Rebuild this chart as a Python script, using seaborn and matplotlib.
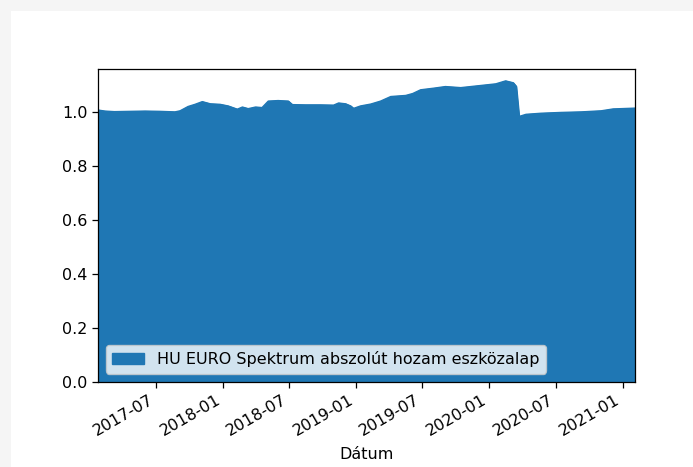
import seaborn as sns
import matplotlib.pyplot as plt
import matplotlib.dates as mdates
from matplotlib.patches import Rectangle
import pandas as pd

# values
dates = [
    "2017-01-23", "2017-02-11", "2017-03-09", "2017-04-20", "2017-06-01",
    "2017-07-12", "2017-08-22", "2017-09-05", "2017-09-27", "2017-10-16",
    "2017-11-05", "2017-11-27", "2017-12-24", "2018-01-15", "2018-02-09",
    "2018-02-23", "2018-03-11", "2018-03-31", "2018-04-18", "2018-05-05",
    "2018-06-01", "2018-06-29", "2018-07-10", "2018-08-15", "2018-09-25",
    "2018-10-31", "2018-11-14", "2018-12-03", "2018-12-17", "2018-12-25",
    "2019-01-13", "2019-02-10", "2019-03-09", "2019-04-06", "2019-05-17",
    "2019-06-05", "2019-06-27", "2019-08-02", "2019-09-03", "2019-10-15",
    "2019-12-09", "2020-01-19", "2020-02-15", "2020-03-07", "2020-03-15",
    "2020-03-23", "2020-04-11", "2020-05-22", "2020-07-16", "2020-09-09",
    "2020-11-03", "2020-12-06", "2021-02-04",
]
values = [
    1.007, 1.003, 1.001, 1.002, 1.003,
    1.002, 1.000, 1.004, 1.020, 1.028,
    1.038, 1.030, 1.028, 1.022, 1.010,
    1.018, 1.012, 1.018, 1.016, 1.040,
    1.042, 1.040, 1.027, 1.026, 1.026,
    1.025, 1.033, 1.030, 1.022, 1.013,
    1.022, 1.029, 1.040, 1.057, 1.061,
    1.068, 1.082, 1.088, 1.094, 1.090,
    1.098, 1.104, 1.115, 1.108, 1.095,
    0.983, 0.991, 0.995, 0.998, 1.000,
    1.004, 1.011, 1.014,
]
fund = "HU EURO Spektrum abszolút hozam eszközalap"

df = pd.DataFrame({"Dátum": pd.to_datetime(dates), fund: values})

sns.reset_defaults()
plt.rcParams.update({
    "font.size": 11.5,
    "axes.linewidth": 0.9,
    "xtick.major.size": 4, "ytick.major.size": 4,
    "xtick.major.width": 0.9, "ytick.major.width": 0.9,
})
fig = plt.figure(figsize=(6.93, 4.67), dpi=100, facecolor="#f5f5f5")
# white output area (notebook-like frame on top/left)
fig.add_artist(Rectangle((11 / 693, 0), 1, 1 - 11 / 467, transform=fig.transFigure,
                         facecolor="white", edgecolor="none", zorder=-1))
ax = fig.add_axes([98 / 693, 1 - 381.5 / 467, 537 / 693, 313 / 467])

sns.lineplot(data=df, x="Dátum", y=fund, ax=ax, color="C0", linewidth=1)
ax.fill_between(df["Dátum"], df[fund], color="C0", label=fund)

ax.set_xlim(df["Dátum"].iloc[0], df["Dátum"].iloc[-1])
ax.set_ylim(0, 1.161)
ax.set_ylabel("")
ax.set_xlabel("Dátum", labelpad=6)
ax.xaxis.set_major_locator(mdates.MonthLocator(bymonth=(1, 7)))
ax.xaxis.set_major_formatter(mdates.DateFormatter("%Y-%m"))
for lbl in ax.get_xticklabels():
    lbl.set_rotation(30)
    lbl.set_ha("right")

handles, labels = ax.get_legend_handles_labels()
ax.legend([h for h, l in zip(handles, labels) if l == fund], [fund], loc="lower left")

fig.savefig("out.png", dpi=100, facecolor=fig.get_facecolor())
